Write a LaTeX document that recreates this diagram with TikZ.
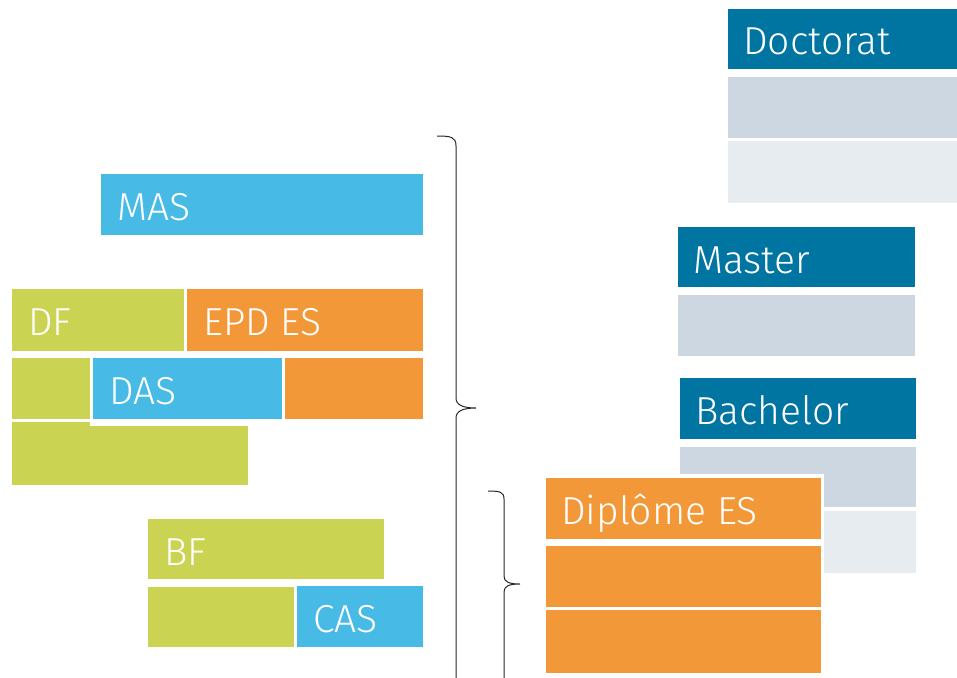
\documentclass[tikz,border=0pt]{standalone}
\usepackage{fontspec}
\setmainfont{Fira Sans}[UprightFont=* Light]
\definecolor{bluedark}{RGB}{0,117,162}
\definecolor{bluelight}{RGB}{71,187,230}
\definecolor{greenlime}{RGB}{203,212,82}
\definecolor{orangeES}{RGB}{243,152,56}
\definecolor{greymid}{RGB}{205,215,225}
\definecolor{greypale}{RGB}{231,236,240}
\tikzset{
  blk/.style={draw=white, line width=1pt, anchor=north west, inner sep=0pt, minimum height=62pt},
  lbl/.style={anchor=base west, text=white, inner sep=0pt, font=\fontsize{39}{39}\selectfont},
  brc/.style={draw=black!85, line width=1pt},
}
\begin{document}
\begin{tikzpicture}[x=1pt,y=-1pt]
\useasboundingbox (0,0) rectangle (957,677);
\clip (0,0) rectangle (957,677);

% left column: further education
\node[blk,fill=bluelight,minimum width=323pt] (mas) at (100,173) {};
\node[lbl] (masT) at ([xshift=17pt,yshift=-47pt]mas.north west) {MAS};

\node[blk,fill=greenlime,minimum width=173pt,minimum height=63pt] (df) at (11,288) {};
\node[lbl] (dfT) at ([xshift=17pt,yshift=-47pt]df.north west) {DF};
\node[blk,fill=orangeES,minimum width=237pt,minimum height=63pt] (epd) at (186,288) {};
\node[lbl] (epdT) at ([xshift=17pt,yshift=-47pt]epd.north west) {EPD ES};

\node[blk,fill=greenlime,minimum width=79pt] (df2) at (11,357) {};
\node[blk,fill=greenlime,minimum width=237pt,minimum height=64pt] (df3) at (11,421) {};
\node[fill=white,anchor=north west,inner sep=0pt,minimum width=194pt,minimum height=71pt] (dasbg) at (90,355) {};
\node[blk,fill=bluelight,minimum width=190pt] (das) at (92,357) {};
\node[lbl] (dasT) at ([xshift=17pt,yshift=-47pt]das.north west) {DAS};
\node[blk,fill=orangeES,minimum width=139pt] (epd2) at (284,357) {};

\node[blk,fill=greenlime,minimum width=237pt,minimum height=61pt] (bf) at (147,518) {};
\node[lbl] (bfT) at ([xshift=17pt,yshift=-47pt]bf.north west) {BF};
\node[blk,fill=greenlime,minimum width=147pt,minimum height=61pt] (bf2) at (147,586) {};
\node[blk,fill=bluelight,minimum width=127pt] (cas) at (296,585) {};
\node[lbl] (casT) at ([xshift=17pt,yshift=-47pt]cas.north west) {CAS};

% braces
\draw[brc] (437,136) .. controls (451,136) and (456,137) .. (456,146) -- (456,398)
  .. controls (456,405) and (463,408) .. (476,408)
  .. controls (463,408) and (456,411) .. (456,418) -- (456,680)
  .. controls (456,689) and (451,690) .. (437,690);
\draw[brc] (488,491) .. controls (500,491) and (504,492) .. (504,499) -- (504,576)
  .. controls (504,582) and (509,584) .. (520,584)
  .. controls (509,584) and (504,586) .. (504,592) -- (504,682)
  .. controls (504,689) and (500,690) .. (488,690);

% right column: tertiary degrees
\node[blk,fill=bluedark,minimum width=240pt,minimum height=61pt] (doc) at (727,8) {};
\node[lbl] (docT) at ([xshift=16pt,yshift=-47pt]doc.north west) {Doctorat};
\node[blk,fill=greymid,minimum width=240pt] (doc2) at (727,76) {};
\node[blk,fill=greypale,minimum width=240pt,minimum height=63pt] (doc3) at (727,140) {};

\node[blk,fill=bluedark,minimum width=238pt,minimum height=61pt] (mst) at (677,226) {};
\node[lbl] (mstT) at ([xshift=16pt,yshift=-47pt]mst.north west) {Master};
\node[blk,fill=greymid,minimum width=238pt] (mst2) at (677,294) {};

\node[blk,fill=bluedark,minimum width=237pt] (bac) at (679,377) {};
\node[lbl] (bacT) at ([xshift=16pt,yshift=-47pt]bac.north west) {Bachelor};
\node[blk,fill=greymid,minimum width=237pt,minimum height=61pt] (bac2) at (679,446) {};
\node[blk,fill=greypale,minimum width=237pt,minimum height=63pt] (bac3) at (679,510) {};

\node[fill=white,anchor=north west,inner sep=0pt,minimum width=282pt,minimum height=205pt] (dipbg) at (542,474) {};
\node[blk,fill=orangeES,minimum width=276pt] (dip) at (545,477) {};
\node[lbl] (dipT) at ([xshift=16pt,yshift=-47pt]dip.north west) {Diplôme ES};
\node[blk,fill=orangeES,minimum width=276pt] (dip2) at (545,545) {};
\node[blk,fill=orangeES,minimum width=276pt,minimum height=64pt] (dip3) at (545,609) {};
\end{tikzpicture}
\end{document}
